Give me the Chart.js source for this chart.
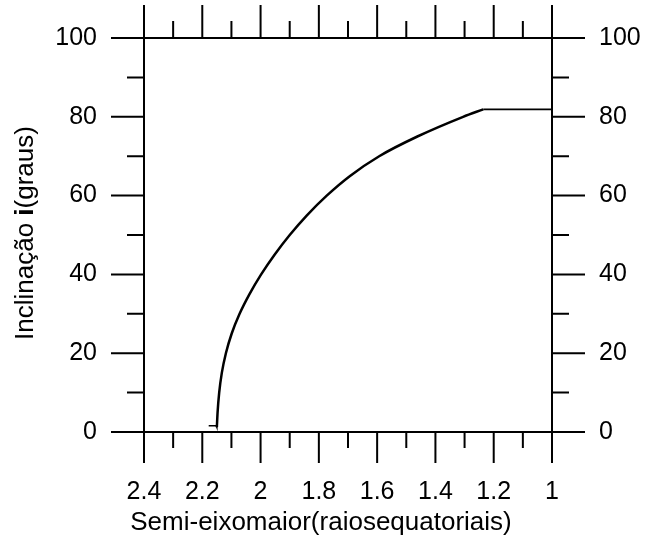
<!DOCTYPE html>
<html>
<head>
<meta charset="utf-8">
<script src="https://cdn.jsdelivr.net/npm/chart.js@4.4.1/dist/chart.umd.min.js"></script>
<style>
  html, body { margin: 0; padding: 0; background: #fff; }
  #chart { display: block; }
</style>
</head>
<body>
<canvas id="chart" width="645" height="539"></canvas>
<script>
// semi-major axis (equatorial radii) vs inclination (degrees)
// short stub at the foot of the curve
const stubAxis = [2.178, 2.152, 2.150];
const stubIncl = [1.6, 1.6, 1.2];
// rising arc
const arcAxis = [2.150, 2.1475, 2.142, 2.133, 2.119, 2.099, 2.072, 2.038, 1.998, 1.952, 1.900, 1.841, 1.773, 1.693, 1.593, 1.462, 1.305, 1.236];
const arcIncl = [1.2, 5, 10, 15, 20, 25, 30, 35, 40, 45, 50, 55, 60, 65, 70, 75, 80, 81.9];
// plateau out to a = 1
const plateauAxis = [1.236, 1.000];
const plateauIncl = [81.9, 81.9];

const xMajorTicks = [2.4, 2.2, 2.0, 1.8, 1.6, 1.4, 1.2, 1.0];
const xMinorTicks = [2.3, 2.1, 1.9, 1.7, 1.5, 1.3, 1.1];
const xTickLabels = ['2.4', '2.2', '2', '1.8', '1.6', '1.4', '1.2', '1'];
const yMajorTicks = [0, 20, 40, 60, 80, 100];
const yMinorTicks = [10, 30, 50, 70, 90];
const yTickLabels = ['0', '20', '40', '60', '80', '100'];

const FONT = 'Liberation Sans, Arial, sans-serif';
const TICK_SIZE = 25;
const TITLE_SIZE = 26;
const MAJOR_LEN = 33;
const MINOR_LEN = 17;

// frame, outward ticks on all four sides, labels and titles
const framePlugin = {
  id: 'frame',
  afterDraw(chart) {
    const ctx = chart.ctx;
    const xs = chart.scales.x;
    const ys = chart.scales.y;
    const { left, right, top, bottom } = chart.chartArea;

    ctx.save();
    ctx.strokeStyle = '#000';
    ctx.lineWidth = 2;
    ctx.lineCap = 'butt';

    ctx.strokeRect(left, top, right - left, bottom - top);

    ctx.beginPath();
    xMajorTicks.forEach(v => {
      const px = xs.getPixelForValue(v);
      ctx.moveTo(px, top); ctx.lineTo(px, top - MAJOR_LEN);
      ctx.moveTo(px, bottom); ctx.lineTo(px, bottom + MAJOR_LEN - 2);
    });
    xMinorTicks.forEach(v => {
      const px = xs.getPixelForValue(v);
      ctx.moveTo(px, top); ctx.lineTo(px, top - MINOR_LEN);
      ctx.moveTo(px, bottom); ctx.lineTo(px, bottom + MINOR_LEN - 1);
    });
    yMajorTicks.forEach(v => {
      const py = ys.getPixelForValue(v);
      ctx.moveTo(left, py); ctx.lineTo(left - MAJOR_LEN, py);
      ctx.moveTo(right, py); ctx.lineTo(right + MAJOR_LEN, py);
    });
    yMinorTicks.forEach(v => {
      const py = ys.getPixelForValue(v);
      ctx.moveTo(left, py); ctx.lineTo(left - MINOR_LEN, py);
      ctx.moveTo(right, py); ctx.lineTo(right + MINOR_LEN, py);
    });
    ctx.stroke();

    ctx.fillStyle = '#000';
    ctx.font = TICK_SIZE + 'px ' + FONT;

    ctx.textAlign = 'center';
    ctx.textBaseline = 'middle';
    xMajorTicks.forEach((v, i) => {
      ctx.fillText(xTickLabels[i], xs.getPixelForValue(v), 492);
    });

    yMajorTicks.forEach((v, i) => {
      const py = ys.getPixelForValue(v);
      ctx.textAlign = 'right';
      ctx.fillText(yTickLabels[i], 97, py);
      ctx.textAlign = 'left';
      ctx.fillText(yTickLabels[i], 599, py);
    });

    // x title
    ctx.font = TITLE_SIZE + 'px ' + FONT;
    ctx.textAlign = 'center';
    ctx.textBaseline = 'alphabetic';
    ctx.fillText('Semi-eixomaior(raiosequatoriais)', 321, 530);

    // y title, with the bold "i"
    const parts = [
      { text: 'Inclinação ', weight: 'normal' },
      { text: 'i', weight: 'bold' },
      { text: '(graus)', weight: 'normal' }
    ];
    const widths = parts.map(p => {
      ctx.font = p.weight + ' ' + TITLE_SIZE + 'px ' + FONT;
      return ctx.measureText(p.text).width;
    });
    const total = widths.reduce((a, b) => a + b, 0);
    ctx.translate(33, 233);
    ctx.rotate(-Math.PI / 2);
    ctx.textAlign = 'left';
    let cx = -total / 2;
    parts.forEach((p, i) => {
      ctx.font = p.weight + ' ' + TITLE_SIZE + 'px ' + FONT;
      ctx.fillText(p.text, cx, 0);
      cx += widths[i];
    });
    ctx.restore();
  }
};

const toPoints = (xs, ys) => xs.map((a, i) => ({ x: a, y: ys[i] }));

const lineStyle = {
  borderColor: '#000',
  pointRadius: 0,
  fill: false
};

new Chart(document.getElementById('chart'), {
  type: 'line',
  data: {
    datasets: [
      { ...lineStyle, data: toPoints(stubAxis, stubIncl), borderWidth: 1.5, tension: 0 },
      { ...lineStyle, data: toPoints(arcAxis, arcIncl), borderWidth: 2.5, cubicInterpolationMode: 'monotone' },
      { ...lineStyle, data: toPoints(plateauAxis, plateauIncl), borderWidth: 1.8, tension: 0 }
    ]
  },
  options: {
    responsive: false,
    animation: false,
    layout: {
      padding: { left: 144, right: 93, top: 38, bottom: 107 }
    },
    plugins: {
      legend: { display: false },
      tooltip: { enabled: false }
    },
    scales: {
      x: {
        type: 'linear',
        reverse: true,
        min: 1,
        max: 2.4,
        display: false
      },
      y: {
        type: 'linear',
        min: 0,
        max: 100,
        display: false
      }
    }
  },
  plugins: [framePlugin]
});
</script>
</body>
</html>
